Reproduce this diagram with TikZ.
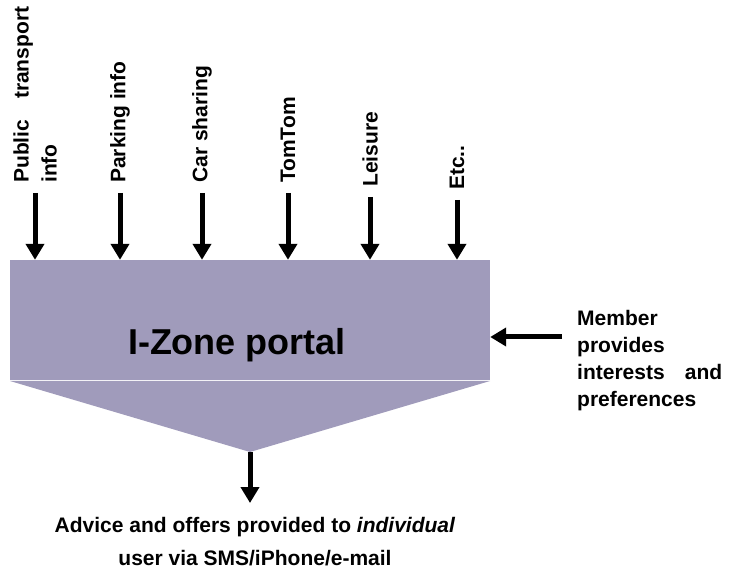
\documentclass[tikz,border=0pt]{standalone}
\usepackage{fontspec}
\setmainfont{Liberation Sans}
\usetikzlibrary{arrows.meta}
\definecolor{portalgrey}{RGB}{160,155,187}
\tikzset{
  feed/.style={line width=5pt, -{Triangle[length=16pt,width=18pt]}},
  source/.style={rotate=90, anchor=west, inner sep=0pt, font=\fontsize{21}{28}\selectfont\bfseries},
  remark/.style={inner sep=0pt, font=\fontsize{21}{27}\selectfont\bfseries}
}

\begin{document}
\begin{tikzpicture}[x=1pt,y=-1pt]
\useasboundingbox (0,0) rectangle (734,577);

\node[fill=portalgrey, minimum width=480pt, minimum height=120pt, inner sep=0pt] (portal) at (250,320) {};
\fill[portalgrey] (10,381) -- (490,381) -- (250,452) coordinate (apex) -- cycle;
\node[font=\fontsize{36}{40}\selectfont\bfseries, inner sep=0pt] (title) at (237,345) {I-Zone portal};

\coordinate (s1) at (35,193);
\coordinate (s2) at (120,193);
\coordinate (s3) at (202,193);
\coordinate (s4) at (288,193);
\coordinate (s5) at (370,197);
\coordinate (s6) at (457,200);

\draw[feed] (s1) -- (s1 |- portal.north);
\draw[feed] (s2) -- (s2 |- portal.north);
\draw[feed] (s3) -- (s3 |- portal.north);
\draw[feed] (s4) -- (s4 |- portal.north);
\draw[feed] (s5) -- (s5 |- portal.north);
\draw[feed] (s6) -- (s6 |- portal.north);

\node[source, text width=176pt, align=left] (public) at (35,183) {Public\hfill transport\\info};
\node[source] (parking) at (120,183) {Parking info};
\node[source] (carsharing) at (202,183) {Car sharing};
\node[source] (tomtom) at (288,183) {TomTom};
\node[source] (leisure) at (370,187) {Leisure};
\node[source] (etc) at (457,190) {Etc..};

\coordinate (m0) at (562,337);
\draw[feed] (m0) -- (m0 -| portal.east);
\node[remark, anchor=north west, text width=145pt, align=left] (member) at (577,310) {Member\\provides\\interests\hfill and\\preferences};

\coordinate (out) at (250,503);
\draw[feed] (apex) -- (out);
\node[remark, anchor=north, align=center, font=\fontsize{21}{33}\selectfont\bfseries] (advice) at (255,517) {Advice and offers provided to \textit{individual}\\user via SMS/iPhone/e-mail};

\end{tikzpicture}
\end{document}
